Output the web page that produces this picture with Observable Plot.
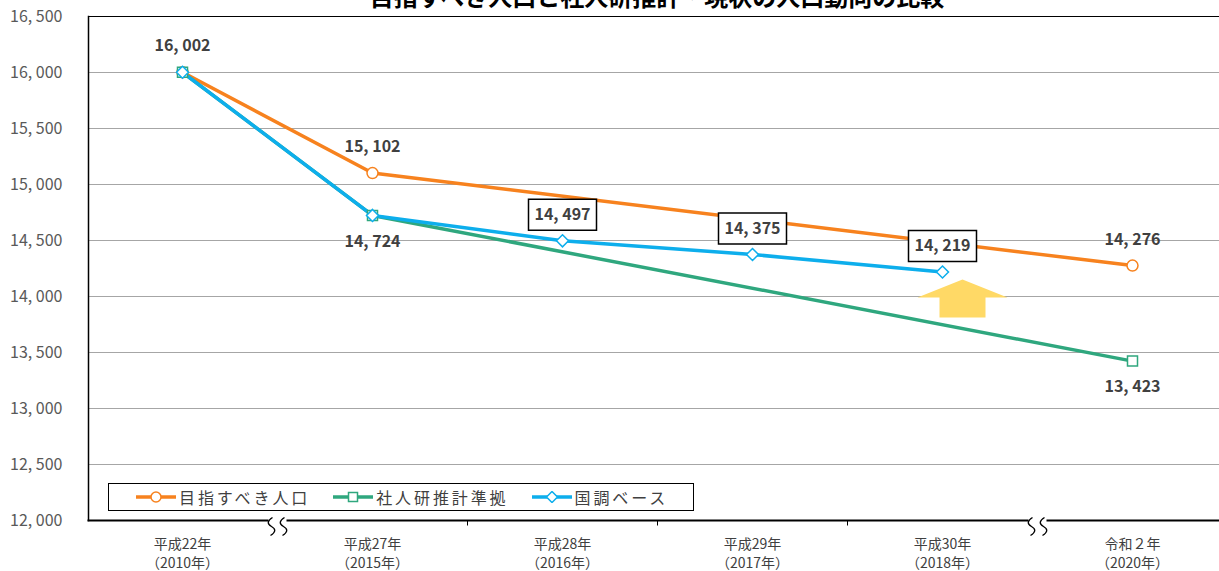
<!DOCTYPE html>
<html><head><meta charset="utf-8">
<script src="https://cdn.jsdelivr.net/npm/d3@7"></script>
<script src="https://cdn.jsdelivr.net/npm/@observablehq/plot@0.6"></script>
<style>
body{margin:0;background:#fff;font-family:"Noto Sans CJK JP","Noto Sans",sans-serif;}
#wrap{position:relative;width:1219px;height:571px;overflow:hidden;}
#title{position:absolute;top:-16px;left:0;width:1314px;text-align:center;font-size:24px;line-height:24px;font-weight:bold;color:#000;z-index:2;}
#legend{position:absolute;left:108px;top:483px;width:586px;height:28px;border:1.5px solid #000;background:#fff;box-sizing:border-box;display:flex;align-items:center;padding-left:27px;font-size:16px;letter-spacing:2.9px;color:#404040;z-index:2;white-space:nowrap;}
#legend .item{display:flex;align-items:center;margin-right:23px;}
#legend svg{margin-right:3px;}
</style>
</head><body>
<div id="wrap"><div id="title"></div><div id="chart"></div><div id="legend"></div></div>
<script>
const titleText = "目指すべき人口と社人研推計・現状の人口動向の比較";
const categories = ["平成22年","平成27年","平成28年","平成29年","平成30年","令和２年"];
const yearLabels = ["（2010年）","（2015年）","（2016年）","（2017年）","（2018年）","（2020年）"];
const seriesNames = ["目指すべき人口","社人研推計準拠","国調ベース"];
const targetValues = [16002, 15102, null, null, null, 14276];
const ipssValues   = [16002, 14724, null, null, null, 13423];
const censusValues = [16002, 14724, 14497, 14375, 14219, null];
const seriesColors = ["#F7821E","#2FA77E","#0DAEEC"];
const yTicks = [12000,12500,13000,13500,14000,14500,15000,15500,16000,16500];
// labelled points: [series index, category index, placement]
const labelSpecs = [[0,0,"above"],[0,1,"above"],[0,5,"above"],[1,1,"below"],[1,5,"below"],[2,2,"box"],[2,3,"box"],[2,4,"box"]];
const arrowMark = [{cat:"平成30年", value:14000}];

document.getElementById("title").textContent = titleText;

const allValues = [targetValues, ipssValues, censusValues];
const rows = [];
allValues.forEach((vals, s) => vals.forEach((v, i) => { if (v != null) rows.push({series: seriesNames[s], cat: categories[i], value: v}); }));
const fmt = v => d3.format(",")(v).replace(",", ", ");
const labels = labelSpecs.map(([s,i,p]) => ({cat: categories[i], value: allValues[s][i], place: p, text: fmt(allValues[s][i])}));

const circleSym = {draw(ctx){ ctx.moveTo(5.5,0); ctx.arc(0,0,5.5,0,2*Math.PI); }};
const squareSym = {draw(ctx){ ctx.rect(-5,-5,10,10); }};
const diamondSym = {draw(ctx){ ctx.moveTo(0,-6); ctx.lineTo(6,0); ctx.lineTo(0,6); ctx.lineTo(-6,0); ctx.closePath(); }};
const seriesSyms = [circleSym, squareSym, diamondSym];
const boxSymbol = {draw(ctx){ ctx.rect(-34,-15.5,68,31); }};
const arrowSymbol = {draw(ctx){ ctx.moveTo(0,-19); ctx.lineTo(45,-1); ctx.lineTo(23,-1); ctx.lineTo(23,19); ctx.lineTo(-23,19); ctx.lineTo(-23,-1); ctx.lineTo(-45,-1); ctx.closePath(); }};
const tickSymbol = {draw(ctx){ ctx.moveTo(0,0); ctx.lineTo(0,5); }};
const gapSymbol = {draw(ctx){ ctx.rect(-9,-3,18,5); }};
const waveSymbol = {draw(ctx){
  for (const x of [-6,6]) { ctx.moveTo(x+1,-9); ctx.quadraticCurveTo(x-7,-4,x,0); ctx.quadraticCurveTo(x+7,4,x-1,9); }
}};

const seriesMarks = [];
seriesNames.forEach((name, s) => {
  seriesMarks.push(Plot.line(rows.filter(d => d.series === name), {x: "cat", y: "value", stroke: seriesColors[s], strokeWidth: 3.5}));
});
seriesNames.forEach((name, s) => {
  seriesMarks.push(Plot.dot(rows.filter(d => d.series === name), {x: "cat", y: "value", symbol: seriesSyms[s], stroke: seriesColors[s], fill: "#fff", strokeWidth: 1.5, r: 5}));
});

const chart = Plot.plot({
  width: 1219, height: 571,
  marginLeft: 88, marginRight: 0, marginTop: 16, marginBottom: 51,
  style: {fontFamily: '"Noto Sans CJK JP","Noto Sans",sans-serif', background: "#fff", overflow: "hidden"},
  x: {type: "band", domain: categories, range: [87, 1227], padding: 0},
  y: {domain: [12000, 16500]},
  marks: [
    Plot.ruleY(yTicks.slice(1, -1), {stroke: "#A6A6A6", strokeWidth: 1}),
    Plot.frame({anchor: "top", stroke: "#000", strokeWidth: 1}),
    Plot.frame({anchor: "left", stroke: "#000", strokeWidth: 1.5}),
    Plot.frame({anchor: "bottom", stroke: "#000", strokeWidth: 2}),
    Plot.dot(categories.slice(1, 4), {x: d => d, y: () => 12000, dx: 95, symbol: tickSymbol, stroke: "#000", strokeWidth: 1, fill: "none", r: 5}),
    Plot.dot([categories[0], categories[4]], {x: d => d, y: () => 12000, dx: 95, symbol: gapSymbol, fill: "#fff", stroke: "none", r: 5}),
    Plot.dot([categories[0], categories[4]], {x: d => d, y: () => 12000, dx: 95, dy: 6, symbol: waveSymbol, fill: "none", stroke: "#000", strokeWidth: 1.3, r: 5}),
    Plot.axisY({ticks: yTicks, tickSize: 0, tickPadding: 26, tickFormat: fmt, fontSize: 16, fill: "#595959", label: null}),
    Plot.axisX({tickSize: 0, tickPadding: 16, tickFormat: d => d + "\n" + yearLabels[categories.indexOf(d)], fontSize: 14, fill: "#404040", lineHeight: 1.3, label: null}),
    Plot.dot(arrowMark, {x: "cat", y: "value", dx: 20, dy: 2, symbol: arrowSymbol, fill: "#FFD966", stroke: "none", r: 5}),
    ...seriesMarks,
    Plot.dot(labels.filter(d => d.place === "box"), {x: "cat", y: "value", dy: -26, symbol: boxSymbol, fill: "#fff", stroke: "#000", strokeWidth: 1.5, r: 5}),
    Plot.text(labels.filter(d => d.place !== "below"), {x: "cat", y: "value", text: "text", dy: -26, fontSize: 16, fontWeight: "bold", fill: "#404040"}),
    Plot.text(labels.filter(d => d.place === "below"), {x: "cat", y: "value", text: "text", dy: 26, fontSize: 16, fontWeight: "bold", fill: "#404040"})
  ]
});
document.getElementById("chart").appendChild(chart);

const legend = document.getElementById("legend");
seriesNames.forEach((name, s) => {
  const item = document.createElement("div"); item.className = "item";
  const c = seriesColors[s];
  let m;
  if (s === 0) m = `<circle cx="20" cy="6" r="5" fill="#fff" stroke="${c}" stroke-width="1.5"/>`;
  else if (s === 1) m = `<rect x="15.5" y="1.5" width="9" height="9" fill="#fff" stroke="${c}" stroke-width="1.5"/>`;
  else m = `<path d="M20 0.5 L25.5 6 L20 11.5 L14.5 6 Z" fill="#fff" stroke="${c}" stroke-width="1.5"/>`;
  item.innerHTML = `<svg width="40" height="12"><line x1="0" y1="6" x2="40" y2="6" stroke="${c}" stroke-width="3.5"/>${m}</svg><span>${name}</span>`;
  legend.appendChild(item);
});
</script>
</body></html>
